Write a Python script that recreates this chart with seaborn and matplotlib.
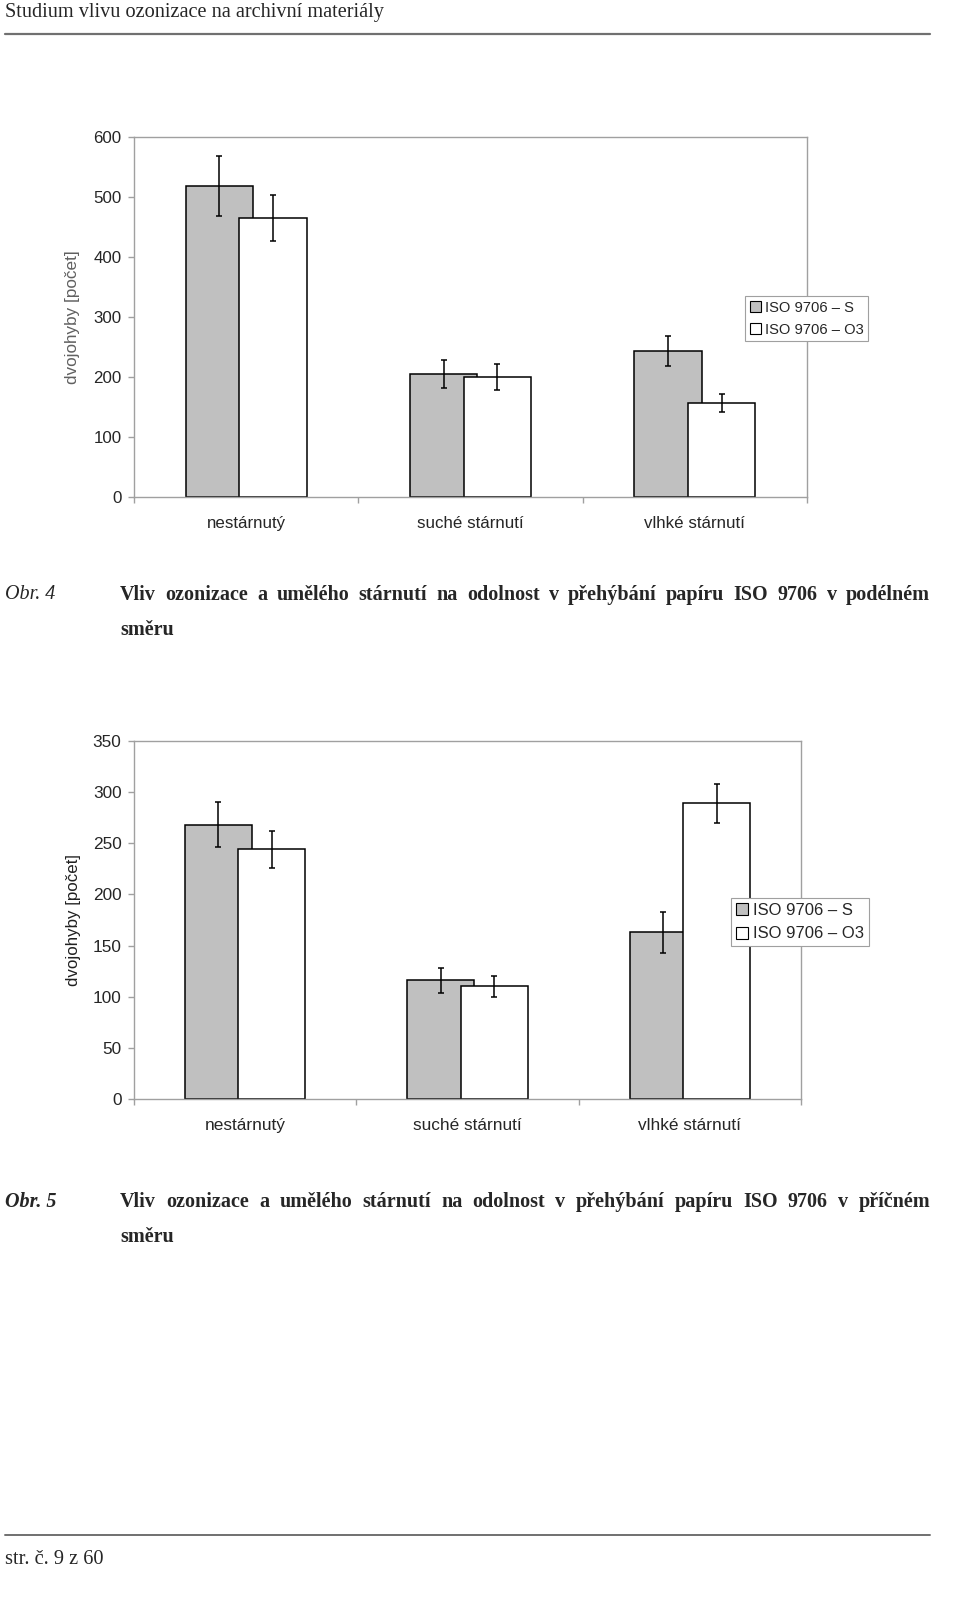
import matplotlib
matplotlib.use("Agg")
import matplotlib.pyplot as plt
from matplotlib.patches import Patch
from matplotlib.ticker import FixedLocator
import seaborn as sns
import pandas as pd

# ---------------- data ----------------
kategorie = ['nestárnutý', 'suché stárnutí', 'vlhké stárnutí']
serie = ['ISO 9706 – S', 'ISO 9706 – O3']

podelny_S = [519, 205, 243]
podelny_S_err = [50, 23, 25]
podelny_O3 = [465, 200, 157]
podelny_O3_err = [38, 22, 15]

pricny_S = [268, 116, 163]
pricny_S_err = [22, 12, 20]
pricny_O3 = [244, 110, 289]
pricny_O3_err = [18, 10, 19]

yticks_1 = [0, 100, 200, 300, 400, 500, 600]
yticks_2 = [0, 50, 100, 150, 200, 250, 300, 350]

ylabel = 'dvojohyby [počet]'
header = 'Studium vlivu ozonizace na archivní materiály'
footer = 'str. č. 9 z 60'
cap1_label = 'Obr. 4'
cap1_line1 = 'Vliv ozonizace a umělého stárnutí na odolnost v přehýbání papíru ISO 9706 v podélném'
cap2_label = 'Obr. 5'
cap2_line1 = 'Vliv ozonizace a umělého stárnutí na odolnost v přehýbání papíru ISO 9706 v příčném'
cap_line2 = 'směru'

# ---------------- figure ----------------
sns.set_style('white')
plt.rcParams['font.family'] = ['Liberation Sans', 'DejaVu Sans']

W, H = 960, 1613
fig = plt.figure(figsize=(W / 100, H / 100), dpi=100)


def fx(x):
    return x / W


def fy(y):
    return 1 - y / H


colors = {serie[0]: '#c0c0c0', serie[1]: '#ffffff'}
grey = '#a0a0a0'


def draw_chart(rect, s_vals, s_err, o_vals, o_err, yticks, tick_fs, lab_fs,
               lab_color, leg_anchor, leg_fs, leg_spacing):
    ax = fig.add_axes(rect)
    df = pd.DataFrame({
        'kategorie': kategorie * 2,
        'hodnota': s_vals + o_vals,
        'serie': [serie[0]] * 3 + [serie[1]] * 3,
    })
    sns.barplot(data=df, x='kategorie', y='hodnota', hue='serie',
                order=kategorie, hue_order=serie, palette=colors,
                dodge=True, width=0.48, errorbar=None, edgecolor='black',
                linewidth=1.1, legend=False, ax=ax, saturation=1)
    errs = [s_err, o_err]
    for cont, e in zip(ax.containers, errs):
        xs, hs = [], []
        for bar in cont:
            cx = bar.get_x() + bar.get_width() / 2
            bar.set_x(cx - 0.15)
            bar.set_width(0.30)
            xs.append(cx)
            hs.append(bar.get_height())
        ax.errorbar(xs, hs, yerr=e, fmt='none', ecolor='black',
                    elinewidth=1.1, capsize=2.3, capthick=1.1, zorder=5)
    ax.set_xlim(-0.5, 2.5)
    ax.set_ylim(yticks[0], yticks[-1])
    ax.set_yticks(yticks)
    ax.set_yticklabels([str(t) for t in yticks], fontsize=tick_fs)
    ax.set_xticks(range(3))
    ax.set_xticklabels(kategorie, fontsize=tick_fs)
    ax.xaxis.set_minor_locator(FixedLocator([-0.5, 0.5, 1.5, 2.5]))
    ax.tick_params(axis='x', which='major', length=0, pad=13.5)
    ax.tick_params(axis='x', which='minor', length=4, color=grey, width=1,
                   bottom=True, direction='out')
    ax.tick_params(axis='y', length=4, color=grey, width=1, pad=5,
                   left=True, direction='out')
    for sp in ax.spines.values():
        sp.set_visible(True)
        sp.set_color(grey)
        sp.set_linewidth(1)
    ax.set_xlabel('')
    ax.set_ylabel(ylabel, fontsize=lab_fs, color=lab_color)
    ax.yaxis.set_label_coords(-0.080, 0.5)
    handles = [Patch(facecolor=colors[s], edgecolor='black', linewidth=0.8)
               for s in serie]
    leg = ax.legend(handles, serie, loc='upper left', bbox_to_anchor=leg_anchor,
                    fontsize=leg_fs, frameon=True, fancybox=False,
                    framealpha=1, edgecolor=grey, handlelength=0.75,
                    handleheight=0.75, handletextpad=0.3,
                    labelspacing=leg_spacing, borderpad=0.3,
                    borderaxespad=0)
    leg.get_frame().set_linewidth(0.8)
    leg.set_clip_on(False)
    return ax


draw_chart([fx(134), fy(497), (807 - 134) / W, (497 - 137) / H],
           podelny_S, podelny_S_err, podelny_O3, podelny_O3_err,
           yticks_1, 12.2, 12.3, '#606060', (0.908, 0.558), 10.6, 0.55)

draw_chart([fx(134), fy(1099), (801 - 134) / W, (1099 - 741) / H],
           pricny_S, pricny_S_err, pricny_O3, pricny_O3_err,
           yticks_2, 12.4, 12.2, '#202020', (0.895, 0.561), 12, 0.5)

# ---------------- page texts ----------------
serif = ['Liberation Serif', 'DejaVu Serif']

fig.text(fx(5), fy(12), header, family=serif, fontsize=14.6, va='center',
         ha='left')
fig.add_artist(plt.Line2D([fx(5), fx(930)], [fy(34), fy(34)],
                          color='#707070', linewidth=1.6))
fig.add_artist(plt.Line2D([fx(5), fx(930)], [fy(1535), fy(1535)],
                          color='#707070', linewidth=1.4))
fig.text(fx(5), fy(1560), footer, family=serif, fontsize=14.7, va='center',
         ha='left')

renderer = fig.canvas.get_renderer()


def justified(text, x0, x1, y, **kw):
    words = text.split(' ')
    arts = [fig.text(0, fy(y), w, va='center', ha='left', **kw) for w in words]
    widths = [a.get_window_extent(renderer).width for a in arts]
    gap = (x1 - x0 - sum(widths)) / (len(words) - 1)
    x = x0
    for a, w in zip(arts, widths):
        a.set_x(fx(x))
        x += w + gap


cap_fs = 14.5
fig.text(fx(5), fy(595), cap1_label, family=serif, fontsize=cap_fs,
         style='italic', va='center', ha='left')
justified(cap1_line1, 120, 930, 595, family=serif, fontsize=cap_fs,
          weight='bold')
fig.text(fx(120), fy(630), cap_line2, family=serif, fontsize=cap_fs,
         weight='bold', va='center', ha='left')

fig.text(fx(5), fy(1202), cap2_label, family=serif, fontsize=cap_fs,
         style='italic', weight='bold', va='center', ha='left')
justified(cap2_line1, 120, 930, 1202, family=serif, fontsize=cap_fs,
          weight='bold')
fig.text(fx(120), fy(1237), cap_line2, family=serif, fontsize=cap_fs,
         weight='bold', va='center', ha='left')

fig.savefig('out.png', dpi=100)
